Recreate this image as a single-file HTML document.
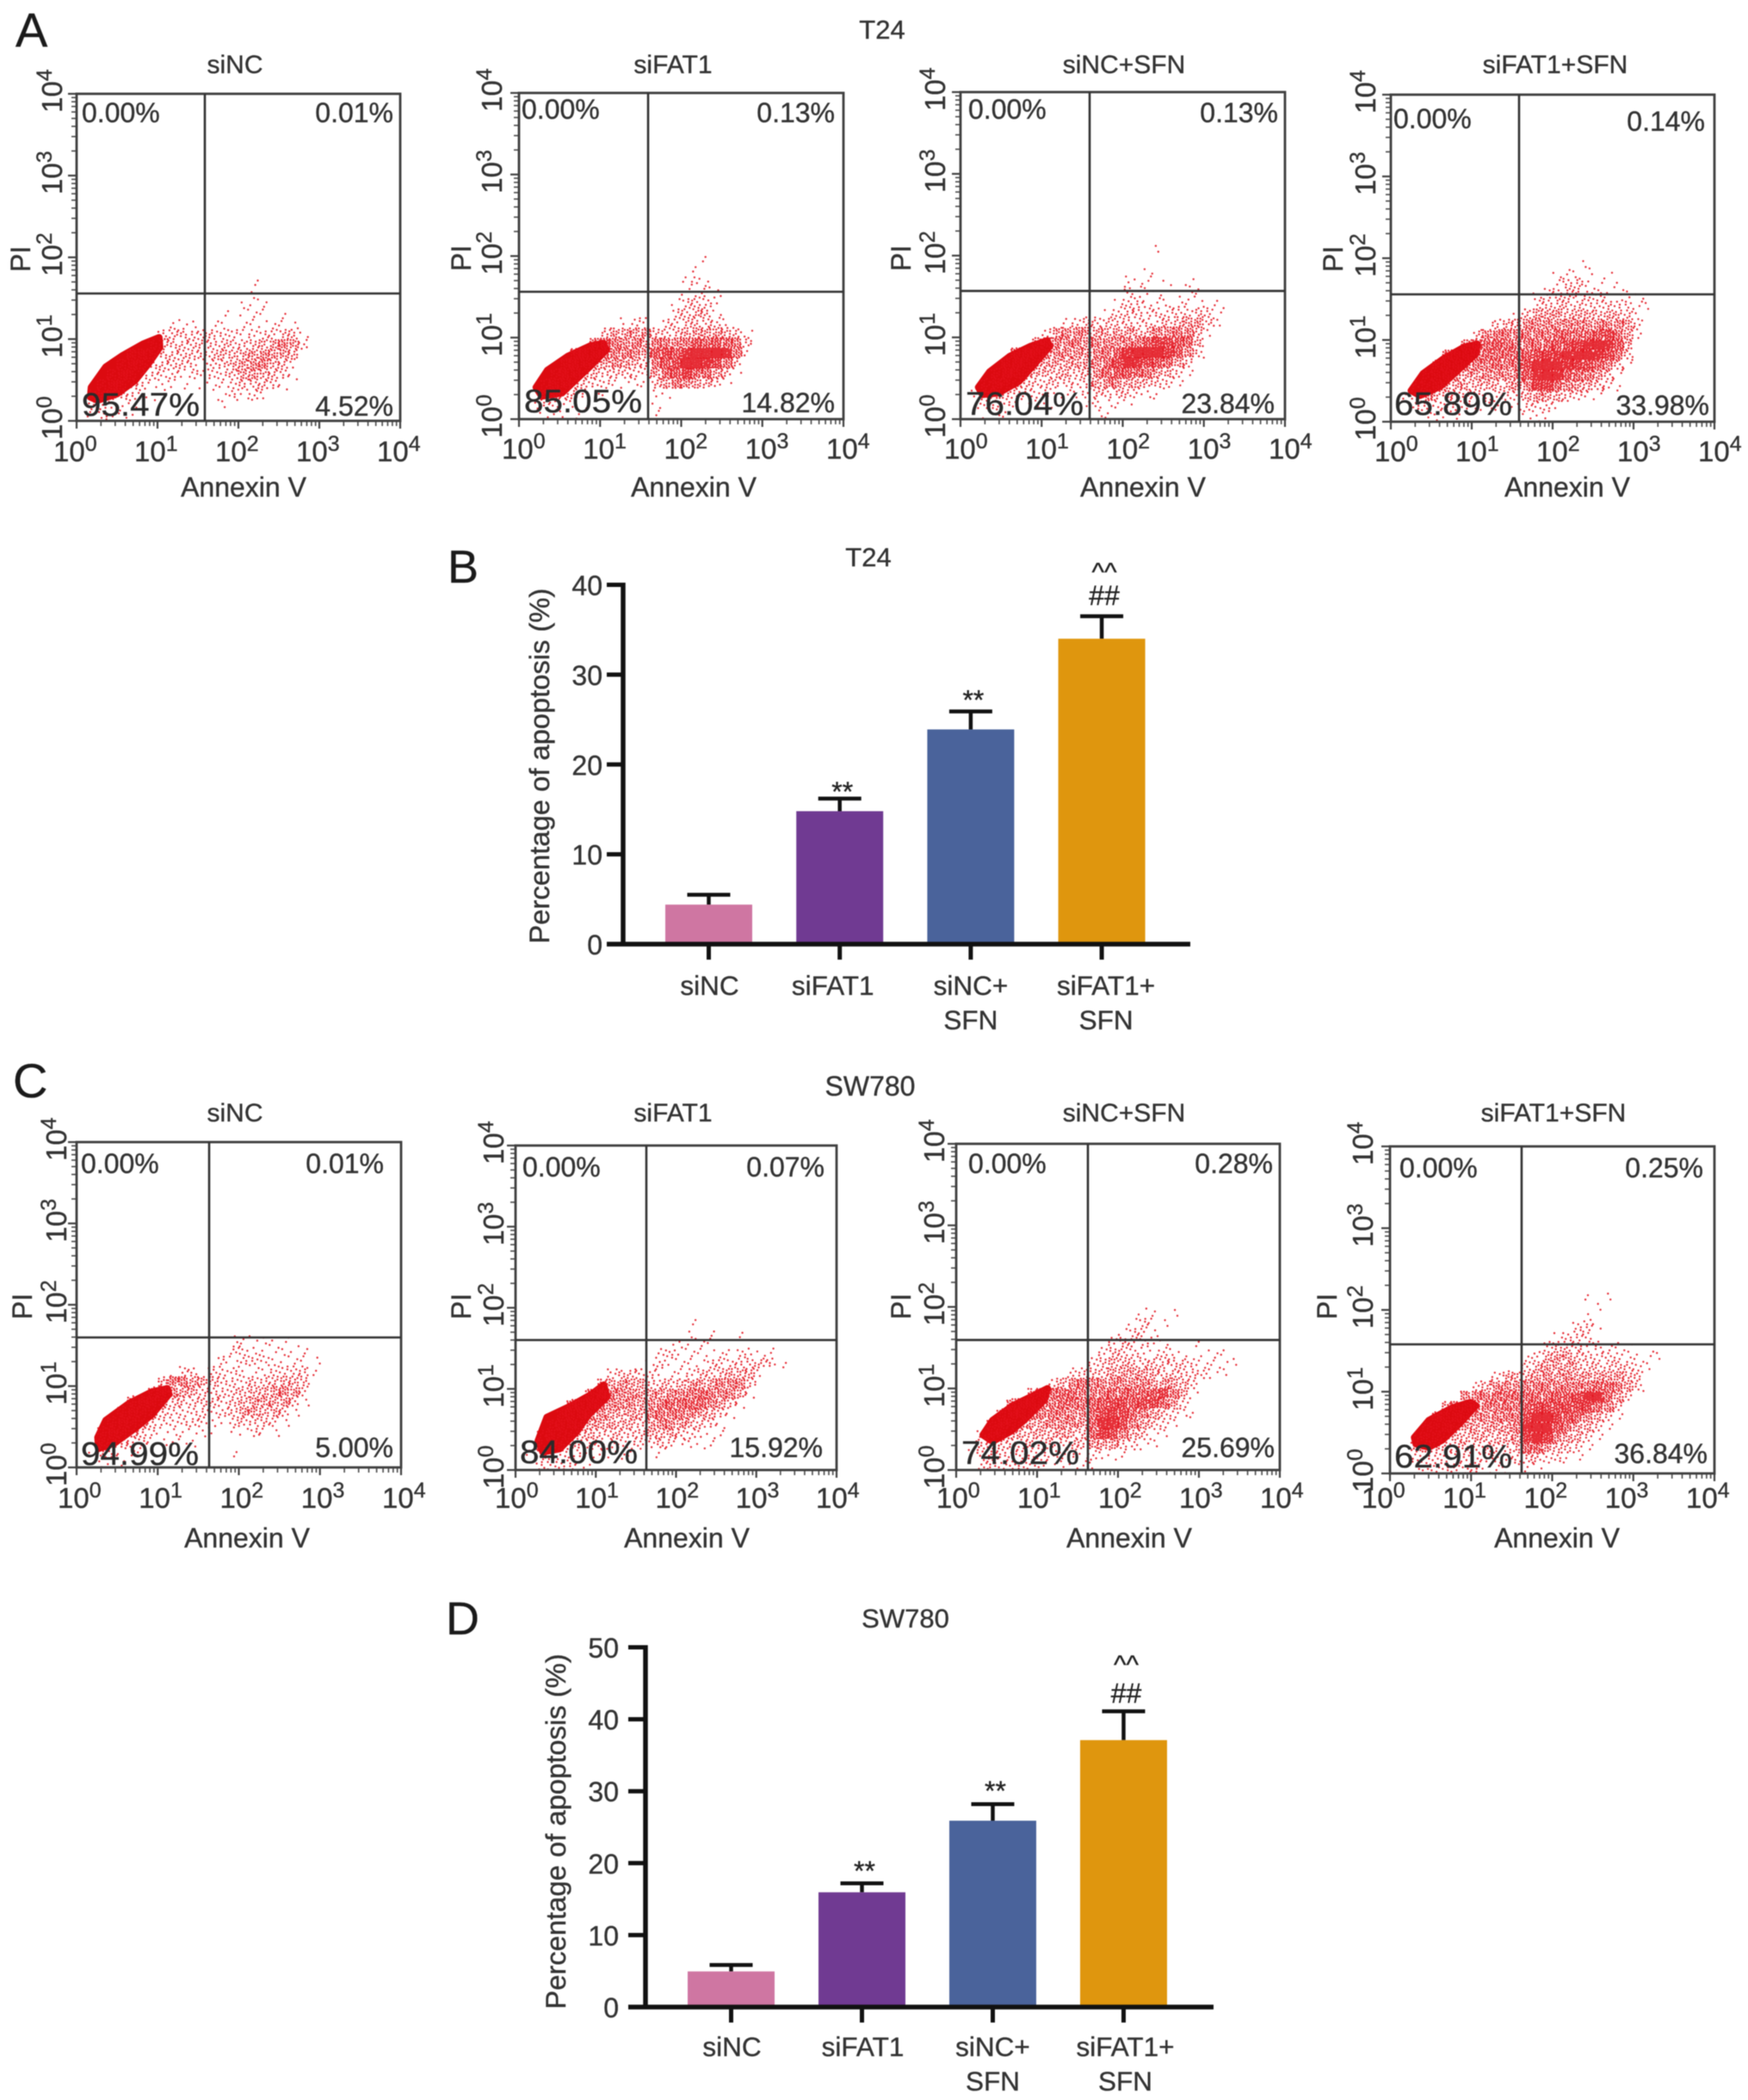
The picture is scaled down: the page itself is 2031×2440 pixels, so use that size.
<!DOCTYPE html>
<html lang="en">
<head>
<meta charset="utf-8">
<title>Apoptosis flow cytometry and bar charts</title>
<style>
html,body{margin:0;padding:0;background:#fff;}
svg{display:block;font-family:"Liberation Sans",sans-serif;filter:blur(0.5px);}
svg text{stroke:#2e2e2e;stroke-width:0.35px;}
</style>
</head>
<body>
<svg id="figure" xmlns="http://www.w3.org/2000/svg" width="2031" height="2440" viewBox="0 0 2031 2440">
<rect x="0" y="0" width="2031" height="2440" fill="#ffffff"/>
<text x="18" y="54" font-size="56" fill="#1a1a1a">A</text>
<text x="520" y="677" font-size="54" fill="#1a1a1a">B</text>
<text x="15" y="1275" font-size="56" fill="#1a1a1a">C</text>
<text x="518" y="1899" font-size="54" fill="#1a1a1a">D</text>
<text x="1025" y="45" font-size="31" text-anchor="middle" fill="#333">T24</text>
<text x="1011" y="1273" font-size="32" text-anchor="middle" fill="#333">SW780</text>
<g id="flow-panels"></g>
<g id="bar-charts"></g>
</svg>
<script>
/* ---------- bar chart data ---------- */
const t24Categories = [['siNC'], ['siFAT1'], ['siNC+', 'SFN'], ['siFAT1+', 'SFN']];
const t24Means = [4.4, 14.8, 23.9, 34.0];
const t24Errors = [1.1, 1.4, 2.0, 2.5];
const t24Ticks = [0, 10, 20, 30, 40];
const t24Marks = ['', '**', '**', '##'];
const t24UpperMarks = ['', '', '', '^^'];

const swCategories = [['siNC'], ['siFAT1'], ['siNC+', 'SFN'], ['siFAT1+', 'SFN']];
const swMeans = [4.95, 15.95, 25.9, 37.1];
const swErrors = [0.9, 1.25, 2.3, 4.0];
const swTicks = [0, 10, 20, 30, 40, 50];
const swMarks = ['', '**', '**', '##'];
const swUpperMarks = ['', '', '', '^^'];

const barColors = ['#cf76a2', '#703a92', '#4a639b', '#df960e'];

/* ---------- flow cytometry data: log10 decades ---------- */
const gateX = [1.585, 1.592, 1.592, 1.585, 1.634, 1.63, 1.628, 1.623];
const gateY = [1.558, 1.562, 1.568, 1.558, 1.598, 1.602, 1.594, 1.579];
const decadeTicks = [0, 1, 2, 3, 4];

/* dense population outline, decades */
const a1CoreX = [.18,.36,.57,.82,1.02,1.03,.89,.72,.5,.26,.17];
const a1CoreY = [.41,.66,.8,.94,1.02,.9,.7,.49,.33,.25,.29];
const a2CoreX = [.21,.35,.6,.88,1.04,1.08,.88,.71,.53,.28];
const a2CoreY = [.39,.6,.77,.9,.93,.85,.65,.49,.32,.28];
const a3CoreX = [.22,.36,.61,.86,1.07,1.1,.91,.72,.47,.27];
const a3CoreY = [.39,.58,.77,.89,.96,.89,.67,.46,.32,.3];
const a4CoreX = [.25,.4,.65,.9,1.07,1.05,.83,.61,.36];
const a4CoreY = [.38,.59,.77,.91,.95,.83,.63,.43,.32];
const c1CoreX = [.26,.36,.65,.93,1.12,1.14,.93,.72,.47,.27];
const c1CoreY = [.37,.58,.79,.93,.97,.9,.65,.48,.3,.23];
const c2CoreX = [.28,.39,.69,.94,1.1,1.14,.91,.76,.55,.34];
const c2CoreY = [.36,.65,.79,.93,1.05,.9,.68,.47,.26,.22];
const c3CoreX = [.33,.45,.7,.95,1.13,1.09,.84,.67,.45];
const c3CoreY = [.43,.61,.79,.91,1.0,.86,.61,.47,.35];
const c4CoreX = [.3,.48,.76,.99,1.06,.87,.65,.48,.32];
const c4CoreY = [.44,.65,.8,.87,.83,.62,.41,.32,.36];

/* event density per 1/8-decade cell; rows run bottom to top */
const a1Density = [
[0,1,2,1,1,1],
[0,2,3,2,1,1,0,0,0,0,0,0,0,0,1],
[0,3,5,5,3,2,1,1,0,0,0,0,0,0,1,2,1,2,1],
[0,0,5,6,5,3,2,1,1,1,1,0,1,1,1,2,3,3,3,2,1],
[0,0,0,5,6,5,3,2,2,2,1,2,1,2,2,3,5,5,4,3,2,1],
[0,0,0,0,5,6,5,3,3,3,3,2,1,2,3,4,5,6,6,4,3,1],
[0,0,0,0,0,6,6,5,3,3,3,3,3,3,4,4,4,5,6,5,5,4],
[0,0,0,0,0,0,0,4,4,3,3,3,3,3,3,3,3,3,4,5,6,5,2],
[0,0,0,0,0,0,0,0,2,3,3,2,3,3,2,2,1,2,2,2,3,3,1],
[0,0,0,0,0,0,0,0,0,1,1,1,0,1,1,0,1,1,1,1,1,1],
[0,0,0,0,0,0,0,0,0,0,0,0,0,0,1,0,1,1,1,0,1],
[0,0,0,0,0,0,0,0,0,0,0,0,0,0,0,0,1,1,1],
[0,0,0,0,0,0,0,0,0,0,0,0,0,0,0,0,0,1],
[0,0,0,0,0,0,0,0,0,0,0,0,0,0,0,0,0,1]
];
const a2Density = [
[0,0,1,1,1,1,0,0,0,0,0,0,0,1],
[0,1,2,2,1,1,1,0,0,0,0,0,0,1],
[0,1,5,5,4,3,2,1,1,0,0,0,0,1,1],
[0,0,4,6,6,4,3,2,2,1,1,1,1,3,5,7,6,5,4,2,1],
[0,0,0,5,7,6,4,4,3,3,3,2,2,5,8,9,11,8,8,5,3,1],
[0,0,0,0,6,7,6,5,5,6,5,4,3,7,9,10,14,14,12,10,7,3],
[0,0,0,0,0,7,7,7,7,7,7,6,5,9,10,9,12,14,14,16,13,7,1],
[0,0,0,0,0,0,0,7,9,7,6,7,5,7,7,6,7,9,8,9,8,7,3],
[0,0,0,0,0,0,0,0,3,5,5,5,6,3,3,3,4,5,5,5,4,3,1],
[0,0,0,0,0,0,0,0,0,0,1,2,1,0,2,2,3,3,3,2,1],
[0,0,0,0,0,0,0,0,0,0,0,0,0,0,0,2,3,4,3,1],
[0,0,0,0,0,0,0,0,0,0,0,0,0,0,0,1,2,3,2,1],
[0,0,0,0,0,0,0,0,0,0,0,0,0,0,0,0,1,1,2,1],
[0,0,0,0,0,0,0,0,0,0,0,0,0,0,0,0,1,2,1],
[0,0,0,0,0,0,0,0,0,0,0,0,0,0,0,0,0,1],
[0,0,0,0,0,0,0,0,0,0,0,0,0,0,0,0,0,0,1]
];
const a3Density = [
[0,0,1,1,1,0,0,0,0,0,0,0,0,1,1],
[0,1,2,2,2,1,1,1,1,0,0,0,1,2,1,1,1],
[0,1,5,5,3,3,2,2,2,1,1,1,2,3,3,3,3,2,1,1],
[0,0,4,6,5,4,3,3,3,3,3,2,3,5,6,6,5,4,4,3,2,1],
[0,0,0,5,7,6,5,4,4,4,4,3,4,6,8,9,9,8,7,5,4,2,1],
[0,0,0,0,6,7,6,5,5,5,5,5,5,6,8,10,13,12,10,9,8,5,3],
[0,0,0,0,0,7,7,7,6,6,6,6,5,6,7,9,12,14,14,14,11,9,6,2],
[0,0,0,0,0,0,0,6,8,7,6,7,6,6,6,6,7,7,9,11,10,9,8,4],
[0,0,0,0,0,0,0,0,2,5,6,6,5,5,4,5,5,4,4,6,6,7,6,4,1],
[0,0,0,0,0,0,0,0,0,0,1,2,3,3,3,3,3,2,2,2,3,4,5,5,3,1],
[0,0,0,0,0,0,0,0,0,0,0,0,0,0,1,2,3,3,2,2,2,2,2,3,2,1],
[0,0,0,0,0,0,0,0,0,0,0,0,0,0,0,1,2,2,1,1,1,1,1,1,0,1],
[0,0,0,0,0,0,0,0,0,0,0,0,0,0,0,0,2,1,1,1,0,0,1,1],
[0,0,0,0,0,0,0,0,0,0,0,0,0,0,0,0,1,1,1,0,1,0,1],
[0,0,0,0,0,0,0,0,0,0,0,0,0,0,0,0,0,0,1],
[],
[0,0,0,0,0,0,0,0,0,0,0,0,0,0,0,0,0,0,0,1]
];
const a4Density = [
[0,0,0,1,1,1,1,0,0,0,0,0,0,1,1,1],
[0,1,2,2,2,2,2,2,2,1,1,1,1,2,2,2,1],
[0,1,3,5,4,4,3,3,2,2,2,2,3,4,5,5,4,3,2,1,1],
[0,0,3,5,6,5,5,4,4,4,4,4,5,7,11,11,8,6,5,4,3,2,1],
[0,0,0,4,6,7,6,5,5,6,6,6,7,9,13,15,13,9,8,7,5,3,1],
[0,0,0,0,5,7,7,7,7,7,8,7,8,10,13,15,14,12,11,10,8,6,3,1],
[0,0,0,0,0,6,7,7,8,8,8,8,8,9,10,11,12,13,14,14,12,10,7,3],
[0,0,0,0,0,0,0,6,8,8,9,8,7,7,8,8,9,10,11,13,14,12,9,4],
[0,0,0,0,0,0,0,0,3,6,7,7,7,7,7,7,8,8,8,8,9,10,8,5,1],
[0,0,0,0,0,0,0,0,0,0,3,4,4,6,6,6,6,6,6,6,6,6,6,5,2],
[0,0,0,0,0,0,0,0,0,0,0,0,1,3,5,5,5,4,4,4,4,4,4,3,1],
[0,0,0,0,0,0,0,0,0,0,0,0,0,0,2,3,3,3,3,2,2,3,2,2,1,1],
[0,0,0,0,0,0,0,0,0,0,0,0,0,0,1,2,3,3,3,2,2,1,1,1,1],
[0,0,0,0,0,0,0,0,0,0,0,0,0,0,0,0,1,3,3,1,1,0,1],
[0,0,0,0,0,0,0,0,0,0,0,0,0,0,0,0,1,1,1,1,0,1],
[0,0,0,0,0,0,0,0,0,0,0,0,0,0,0,0,0,0,0,1]
];
const c1Density = [
[0,0,1,1,1],
[0,1,3,2,1,1,1,0,0,0,0,0,0,0,0,1],
[0,0,5,5,3,2,2,1,1,1,1,1],
[0,0,5,6,5,4,3,2,1,1,1,1,1,1,0,1,1,2,1,1],
[0,0,0,5,6,5,4,3,2,2,2,2,2,1,1,2,3,3,3,2,1],
[0,0,0,0,5,6,5,4,3,2,2,2,2,2,2,3,5,5,4,4,3,1],
[0,0,0,0,0,5,6,6,5,3,3,3,3,3,2,3,4,5,5,5,5,3,1],
[0,0,0,0,0,0,0,5,7,6,5,4,3,2,2,3,3,4,4,5,6,5,2],
[0,0,0,0,0,0,0,0,4,7,7,5,4,4,2,2,2,3,3,3,4,4,3],
[0,0,0,0,0,0,0,0,0,0,2,2,0,2,2,2,1,1,1,2,2,2,3,1],
[0,0,0,0,0,0,0,0,0,0,0,0,0,0,2,1,2,2,2,1,1,1,1,1],
[0,0,0,0,0,0,0,0,0,0,0,0,0,0,0,2,2,1,1,1,1,1,1],
[0,0,0,0,0,0,0,0,0,0,0,0,0,0,0,1,1,1,1,1,1]
];
const c2Density = [
[0,0,2,2,2,2,1,1],
[0,1,3,3,2,2,2,1,1,1,1,1,0,0,1],
[0,0,4,4,4,3,3,3,3,2,2,2,2,2,3,2,1,1,1,1],
[0,0,3,6,5,4,4,4,3,3,3,3,3,4,4,4,3,2,1,1,1],
[0,0,0,4,6,6,5,5,5,5,4,4,3,5,6,6,5,4,3,2,1],
[0,0,0,0,5,6,6,6,6,5,4,5,4,6,7,7,7,6,5,4,2,1],
[0,0,0,0,0,6,6,7,7,6,6,6,5,6,7,8,8,8,8,6,5,3,1],
[0,0,0,0,0,0,0,6,8,7,6,6,5,5,5,6,6,7,8,7,6,6,4,1],
[0,0,0,0,0,0,0,0,4,5,5,5,5,3,3,3,4,5,5,5,6,6,6,3],
[0,0,0,0,0,0,0,0,0,2,3,3,2,2,1,1,1,2,3,3,3,4,4,4,1],
[0,0,0,0,0,0,0,0,0,0,0,0,0,1,2,1,1,1,1,2,2,2,2,3,3,2,1],
[0,0,0,0,0,0,0,0,0,0,0,0,0,0,2,2,1,1,1,1,1,1,2,1,1,1],
[0,0,0,0,0,0,0,0,0,0,0,0,0,0,0,1,1,1,1,1],
[0,0,0,0,0,0,0,0,0,0,0,0,0,0,0,0,0,1,0,1,0,0,1],
[0,0,0,0,0,0,0,0,0,0,0,0,0,0,0,0,0,1]
];
const c3Density = [
[0,0,2,3,2,2,2,2,2,1,1,1,1,1],
[0,1,2,3,3,2,2,2,2,2,2,2,1,2,1,1,1],
[0,0,3,4,3,3,3,3,3,3,3,3,3,5,5,5,3,2,1,1],
[0,0,2,5,5,4,4,4,4,4,5,4,4,8,11,10,7,4,3,1,1],
[0,0,0,4,6,5,5,5,5,6,6,6,5,8,12,12,10,7,5,3,2,1],
[0,0,0,0,5,6,6,7,7,7,7,6,6,8,10,11,10,8,7,5,3,2,1,1],
[0,0,0,0,0,6,7,7,7,7,8,8,7,8,9,10,10,9,10,10,8,5,2],
[0,0,0,0,0,0,0,5,7,8,8,8,7,7,7,8,8,8,8,9,10,7,4,1],
[0,0,0,0,0,0,0,0,0,2,4,6,7,6,6,6,6,6,6,5,5,5,4,2],
[0,0,0,0,0,0,0,0,0,0,0,2,3,3,3,5,5,5,5,4,3,3,3,3,2,1,1],
[0,0,0,0,0,0,0,0,0,0,0,0,0,2,3,4,4,3,3,3,3,3,3,2,1,1,1,1],
[0,0,0,0,0,0,0,0,0,0,0,0,0,0,2,3,3,2,1,1,2,1,1,0,1,1,1],
[0,0,0,0,0,0,0,0,0,0,0,0,0,0,0,2,3,2,2,1,1,0,0,1],
[0,0,0,0,0,0,0,0,0,0,0,0,0,0,0,0,1,2,2,1],
[0,0,0,0,0,0,0,0,0,0,0,0,0,0,0,0,0,1,2,1,1],
[0,0,0,0,0,0,0,0,0,0,0,0,0,0,0,0,0,0,1,1,0,1]
];
const c4Density = [
[0,0,1,2,2,2,2,2,2,1,1,1,1,1,1],
[0,0,2,2,2,2,2,2,2,2,2,2,2,3,3,2,2,1,1],
[0,0,3,4,4,3,3,3,3,3,3,3,4,8,8,5,4,3,2,1],
[0,0,3,5,5,4,4,4,4,4,4,4,5,11,14,11,6,5,4,2,1],
[0,0,0,4,5,6,5,5,5,5,5,5,7,13,15,15,9,7,5,4,2,1],
[0,0,0,0,5,6,6,6,6,6,7,7,7,10,14,15,11,9,8,6,4,2,1],
[0,0,0,0,0,5,6,6,7,7,7,8,7,9,10,10,10,10,10,10,8,6,3],
[0,0,0,0,0,0,0,6,7,7,8,8,8,8,8,8,9,9,10,13,13,8,5,2],
[0,0,0,0,0,0,0,0,2,4,6,6,6,7,7,7,7,7,7,7,8,8,7,5,2],
[0,0,0,0,0,0,0,0,0,0,2,4,4,4,5,6,5,6,5,5,5,5,5,4,3],
[0,0,0,0,0,0,0,0,0,0,0,0,0,3,4,5,5,5,4,3,3,3,3,3,2,1],
[0,0,0,0,0,0,0,0,0,0,0,0,0,1,2,4,5,5,3,3,2,2,2,1,1,1,1],
[0,0,0,0,0,0,0,0,0,0,0,0,0,0,0,2,3,3,3,1,2,1,1,1],
[0,0,0,0,0,0,0,0,0,0,0,0,0,0,0,0,1,2,2,2],
[0,0,0,0,0,0,0,0,0,0,0,0,0,0,0,0,0,0,2,2,1],
[0,0,0,0,0,0,0,0,0,0,0,0,0,0,0,0,0,0,0,1],
[0,0,0,0,0,0,0,0,0,0,0,0,0,0,0,0,0,0,0,0,1],
[0,0,0,0,0,0,0,0,0,0,0,0,0,0,0,0,0,0,0,1,0,1]
];

/* ---------- layout of each flow panel ---------- */
const flowLayout = [
{id:'t24-sinc',title:'siNC',core:[a1CoreX,a1CoreY],grid:a1Density,L:89,R:465,T:109,B:489,titleX:273,titleY:85,piX:35,piY:301,ytx:72,xtb:536,xtd:27,axX:283,axY:577,
 pct:[['0.00%',95,142,'start'],['0.01%',457,142,'end'],['4.52%',457,483,'end']],big:['95.47%',95,483]},
{id:'t24-sifat1',title:'siFAT1',core:[a2CoreX,a2CoreY],grid:a2Density,L:603,R:980,T:108,B:487,titleX:782,titleY:85,piX:547,piY:300,ytx:583,xtb:533,xtd:20,axX:806,axY:577,
 pct:[['0.00%',606,138,'start'],['0.13%',970,142,'end'],['14.82%',970,479,'end']],big:['85.05%',609,479]},
{id:'t24-sinc-sfn',title:'siNC+SFN',core:[a3CoreX,a3CoreY],grid:a3Density,L:1116,R:1493,T:107,B:487,titleX:1306,titleY:85,piX:1058,piY:300,ytx:1098,xtb:533,xtd:19,axX:1328,axY:577,
 pct:[['0.00%',1125,138,'start'],['0.13%',1485,142,'end'],['23.84%',1481,480,'end']],big:['76.04%',1122,482]},
{id:'t24-sifat1-sfn',title:'siFAT1+SFN',core:[a4CoreX,a4CoreY],grid:a4Density,L:1616,R:1992,T:110,B:490,titleX:1807,titleY:85,piX:1560,piY:301,ytx:1598,xtb:536,xtd:19,axX:1821,axY:577,
 pct:[['0.00%',1619,149,'start'],['0.14%',1981,152,'end'],['33.98%',1986,482,'end']],big:['65.89%',1620,482]},
{id:'sw780-sinc',title:'siNC',core:[c1CoreX,c1CoreY],grid:c1Density,L:89,R:466,T:1327,B:1705,titleX:273,titleY:1303,piX:37,piY:1518,ytx:77,xtb:1752,xtd:22,axX:287,axY:1798,
 pct:[['0.00%',94,1363,'start'],['0.01%',446,1363,'end'],['5.00%',457,1693,'end']],big:['94.99%',94,1702]},
{id:'sw780-sifat1',title:'siFAT1',core:[c2CoreX,c2CoreY],grid:c2Density,L:599,R:972,T:1331,B:1708,titleX:782,titleY:1303,piX:547,piY:1518,ytx:585,xtb:1752,xtd:24,axX:798,axY:1798,
 pct:[['0.00%',607,1367,'start'],['0.07%',958,1367,'end'],['15.92%',956,1693,'end']],big:['84.00%',604,1700]},
{id:'sw780-sinc-sfn',title:'siNC+SFN',core:[c3CoreX,c3CoreY],grid:c3Density,L:1111,R:1487,T:1329,B:1708,titleX:1306,titleY:1303,piX:1058,piY:1518,ytx:1097,xtb:1752,xtd:23,axX:1312,axY:1798,
 pct:[['0.00%',1125,1363,'start'],['0.28%',1479,1363,'end'],['25.69%',1481,1693,'end']],big:['74.02%',1117,1701]},
{id:'sw780-sifat1-sfn',title:'siFAT1+SFN',core:[c4CoreX,c4CoreY],grid:c4Density,L:1615,R:1992,T:1332,B:1712,titleX:1805,titleY:1303,piX:1553,piY:1518,ytx:1595,xtb:1752,xtd:33,axX:1809,axY:1798,
 pct:[['0.00%',1626,1368,'start'],['0.25%',1979,1368,'end'],['36.84%',1984,1700,'end']],big:['62.91%',1620,1705]}
];

const NS = 'http://www.w3.org/2000/svg';
const CELL = 8;
function svgEl(tag, attrs, parent) {
  const node = document.createElementNS(NS, tag);
  for (const k in attrs) node.setAttribute(k, attrs[k]);
  parent.appendChild(node);
  return node;
}
function frac(v) { return v - Math.floor(v); }
function dotsForCount(count) { return Math.round(count * 2 + count * count / 8); }

const flowRoot = document.getElementById('flow-panels');
flowLayout.forEach(function (p, idx) {
  const X = function (d) { return p.L + d * (p.R - p.L) / 4; };
  const Y = function (d) { return p.B - d * (p.B - p.T) / 4; };
  const g = svgEl('g', {}, flowRoot);
  
  

  const title = svgEl('text', {x: p.titleX, y: p.titleY, 'font-size': 30, 'text-anchor': 'middle', fill: '#333'}, g);
  title.textContent = p.title;
  
  

  /* events */
  const core = svgEl('polygon', {
    points: p.core[0].map(function (v, i) { return X(v) + ',' + Y(p.core[1][i]); }).join(' '),
    fill: '#dc0a10', stroke: '#dc0a10', 'stroke-width': 8, 'stroke-linejoin': 'round'
  }, g);
  
  

  p.grid.forEach(function (row, r) {
    row.forEach(function (count, c) {
      if (!count) return;
      let d = '';
      const n = dotsForCount(count);
      const s1 = frac((r + 1) * 0.37 + (c + 1) * 0.61 + idx * 0.13);
      const s2 = frac((r + 1) * 0.71 + (c + 1) * 0.29 + idx * 0.47);
      for (let i = 0; i < n; i++) {
        const u = frac(s1 + 0.7548776662 * (i + 1));
        const v = frac(s2 + 0.5698402910 * (i + 1));
        d += 'M' + X((c + u) / CELL).toFixed(1) + ' ' + Y((r + v) / CELL).toFixed(1) + 'h0';
      }
      const cell = svgEl('path', {d: d, stroke: '#e2101a', 'stroke-width': 2.4, 'stroke-linecap': 'round', fill: 'none', opacity: 0.88}, g);
      
      
    });
  });

  /* ticks */
  for (let dec = 0; dec < 4; dec++) {
    for (let m = 2; m <= 9; m++) {
      const pos = dec + Math.log10(m);
      const tx = svgEl('line', {x1: X(pos), x2: X(pos), y1: p.B, y2: p.B + 6, stroke: '#555', 'stroke-width': 1.7}, g);
      
      
      const ty = svgEl('line', {x1: p.L - 6, x2: p.L, y1: Y(pos), y2: Y(pos), stroke: '#555', 'stroke-width': 1.7}, g);
      
      
    }
  }
  decadeTicks.forEach(function (t) {
    const tx = svgEl('line', {x1: X(t), x2: X(t), y1: p.B, y2: p.B + 9, stroke: '#444', 'stroke-width': 2.2}, g);
    
    
    const ty = svgEl('line', {x1: p.L - 10, x2: p.L, y1: Y(t), y2: Y(t), stroke: '#444', 'stroke-width': 2.2}, g);
    
    

    const lx = svgEl('text', {x: X(t) - p.xtd, y: p.xtb, 'font-size': 33, fill: '#333'}, g);
    lx.appendChild(document.createTextNode('10'));
    const sx = svgEl('tspan', {dy: -12, 'font-size': 25}, lx);
    sx.textContent = String(t);
    
    

    const ly = svgEl('text', {transform: 'translate(' + p.ytx + ',' + (Y(t) + 22) + ') rotate(-90)', 'font-size': 33, fill: '#333'}, g);
    ly.appendChild(document.createTextNode('10'));
    const sy = svgEl('tspan', {dy: -12, 'font-size': 25}, ly);
    sy.textContent = String(t);
    
    
  });

  /* frame and quadrant gates */
  const frame = svgEl('rect', {x: p.L, y: p.T, width: p.R - p.L, height: p.B - p.T, fill: 'none', stroke: '#404040', 'stroke-width': 2.8}, g);
  
  
  const gv = svgEl('line', {x1: X(gateX[idx]), x2: X(gateX[idx]), y1: p.T, y2: p.B, stroke: '#333', 'stroke-width': 2.6}, g);
  
  
  const gh = svgEl('line', {x1: p.L, x2: p.R, y1: Y(gateY[idx]), y2: Y(gateY[idx]), stroke: '#333', 'stroke-width': 2.6}, g);
  
  

  /* labels */
  p.pct.forEach(function (q) {
    const t = svgEl('text', {x: q[1], y: q[2], 'font-size': 32, 'text-anchor': q[3], fill: '#333'}, g);
    t.textContent = q[0];
    
    
  });
  const big = svgEl('text', {x: p.big[1], y: p.big[2], 'font-size': 38, textLength: 137, lengthAdjust: 'spacingAndGlyphs', fill: '#2a2a2a'}, g);
  big.textContent = p.big[0];
  
  

  const xTitle = svgEl('text', {x: p.axX, y: p.axY, 'font-size': 32, 'text-anchor': 'middle', fill: '#333'}, g);
  xTitle.textContent = 'Annexin V';
  
  
  const yTitle = svgEl('text', {transform: 'translate(' + p.piX + ',' + p.piY + ') rotate(-90)', 'font-size': 32, 'text-anchor': 'middle', fill: '#333'}, g);
  yTitle.textContent = 'PI';
  
  
});

/* ---------- bar charts ---------- */
const barLayout = [
{id:'t24',title:'T24',titleX:1009,titleY:658,cats:t24Categories,means:t24Means,errs:t24Errors,ticks:t24Ticks,marks:t24Marks,upper:t24UpperMarks,
 axisX:724,y0:1097,yTop:679.5,endX:1383,first:823.5,step:152.2,barW:101,tickRight:700,tickStart:705,yTitleX:638,yTitleY:890,labelDx:[1,-8,0,5],line1:1156,line2:1196,markGap:[0,15,20,24],upperGap:57},
{id:'sw780',title:'SW780',titleX:1052,titleY:1891,cats:swCategories,means:swMeans,errs:swErrors,ticks:swTicks,marks:swMarks,upper:swUpperMarks,
 axisX:750,y0:2332,yTop:1914,endX:1410,first:849.5,step:152,barW:101,tickRight:719,tickStart:730,yTitleX:657,yTitleY:2128,labelDx:[1,1,0,2],line1:2389,line2:2429,markGap:[0,21,22,21],upperGap:60}
];
const barRoot = document.getElementById('bar-charts');
barLayout.forEach(function (c) {
  const top = c.ticks[c.ticks.length - 1];
  const Y = function (v) { return c.y0 - v * (c.y0 - c.yTop) / top; };
  const BX = function (i) { return c.first + c.step * i; };
  const g = svgEl('g', {}, barRoot);
  
  

  const title = svgEl('text', {x: c.titleX, y: c.titleY, 'font-size': 31, 'text-anchor': 'middle', fill: '#333'}, g);
  title.textContent = c.title;
  
  

  c.means.forEach(function (v, i) {
    const whisker = svgEl('line', {x1: BX(i), x2: BX(i), y1: Y(v), y2: Y(v + c.errs[i]), stroke: '#111', 'stroke-width': 4.5}, g);
    
    
    const cap = svgEl('line', {x1: BX(i) - 25, x2: BX(i) + 25, y1: Y(v + c.errs[i]), y2: Y(v + c.errs[i]), stroke: '#111', 'stroke-width': 4.5}, g);
    
    
    const bar = svgEl('rect', {x: BX(i) - c.barW / 2, y: Y(v), width: c.barW, height: c.y0 - Y(v), fill: barColors[i]}, g);
    
    
    const tick = svgEl('line', {x1: BX(i), x2: BX(i), y1: c.y0, y2: c.y0 + 18, stroke: '#111', 'stroke-width': 5}, g);
    
    
    c.cats[i].forEach(function (line, k) {
      const lab = svgEl('text', {x: BX(i) + c.labelDx[i], y: k ? c.line2 : c.line1, 'font-size': 31.5, 'text-anchor': 'middle', fill: '#333'}, g);
      lab.textContent = line;
      
      
    });
    if (c.marks[i]) {
      const isStar = c.marks[i] === '**';
      const mk = svgEl('text', {x: BX(i) + 3, y: Y(v + c.errs[i]) - c.markGap[i] + (isStar ? 18 : 11), 'font-size': 32, 'text-anchor': 'middle', fill: '#222'}, g);
      mk.textContent = c.marks[i];
      
      
    }
    if (c.upper[i]) {
      const up = svgEl('text', {x: BX(i) + 3, y: Y(v + c.errs[i]) - c.upperGap + 16, 'font-size': 31, 'text-anchor': 'middle', fill: '#222'}, g);
      up.textContent = c.upper[i];
      
      
    }
  });

  const yAxis = svgEl('line', {x1: c.axisX, x2: c.axisX, y1: c.yTop - 2.5, y2: c.y0 + 2.5, stroke: '#111', 'stroke-width': 5.5}, g);
  
  
  const xAxis = svgEl('line', {x1: c.tickStart, x2: c.endX, y1: c.y0, y2: c.y0, stroke: '#111', 'stroke-width': 5.5}, g);
  
  

  c.ticks.forEach(function (t) {
    const tk = svgEl('line', {x1: c.tickStart, x2: c.axisX, y1: Y(t), y2: Y(t), stroke: '#111', 'stroke-width': 5}, g);
    
    
    const lb = svgEl('text', {x: c.tickRight, y: Y(t) + 12, 'font-size': 32, 'text-anchor': 'end', fill: '#333'}, g);
    lb.textContent = String(t);
    
    
  });

  const yTitle = svgEl('text', {transform: 'translate(' + c.yTitleX + ',' + c.yTitleY + ') rotate(-90)', 'font-size': 32, 'text-anchor': 'middle', textLength: 413, lengthAdjust: 'spacingAndGlyphs', fill: '#333'}, g);
  yTitle.textContent = 'Percentage of apoptosis (%)';
  
  
});
</script>
</body>
</html>
